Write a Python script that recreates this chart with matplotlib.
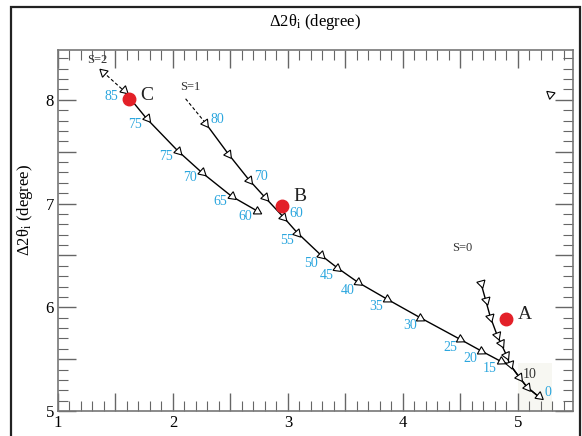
import numpy as np
import matplotlib
matplotlib.use("Agg")
import matplotlib.pyplot as plt
from matplotlib.patches import Rectangle
from matplotlib.ticker import MultipleLocator, FuncFormatter

plt.rcParams['font.family'] = ['Liberation Serif', 'DejaVu Serif']
plt.rcParams['mathtext.fontset'] = 'stix'

# datos
s2_x = [1.39, 1.57, 1.77, 2.04, 2.25, 2.51, 2.73]
s2_y = [8.27, 8.09, 7.82, 7.51, 7.30, 7.07, 6.93]
s2_labels = [None, '85', '75', '75', '70', '65', '60']

s1_start = (2.11, 8.01)
s1_x = [2.28, 2.48, 2.66, 2.80, 2.96, 3.08, 3.29, 3.43, 3.61, 3.86, 4.15, 4.50, 4.68, 4.85]
s1_y = [7.78, 7.48, 7.23, 7.06, 6.87, 6.72, 6.50, 6.38, 6.24, 6.08, 5.90, 5.69, 5.58, 5.48]
s1_labels = ['80', None, '70', None, '60', '55', '50', '45', '40', '35', '30', '25', '20', '15']

s0_x = [4.68, 4.72, 4.76, 4.82, 4.85, 4.90, 4.93, 5.01, 5.08, 5.18]
s0_y = [6.23, 6.07, 5.91, 5.73, 5.66, 5.54, 5.45, 5.33, 5.23, 5.14]
s0_labels = [None, None, None, None, None, None, None, '10', None, '0']

puntos = {'A': (4.90, 5.89), 'B': (2.95, 6.98), 'C': (1.62, 8.01)}
extra = (5.28, 8.06)

BLUE = '#2ba6de'

fig = plt.figure(figsize=(5.82, 4.36), dpi=100)
ax = fig.add_axes([58 / 582, 1 - 411 / 436, 515 / 582, 361 / 436])
ax.set_xlim(1, 5.48)
ax.set_ylim(5, 8.48)

# marco exterior
fig.patches.append(Rectangle((11 / 582, -0.1), 569 / 582, 1.1 - 7 / 436,
                             transform=fig.transFigure, fill=False,
                             edgecolor='#222222', linewidth=1.6))

ax.add_patch(Rectangle((5.0, 5.0), 0.30, 0.46, facecolor='#f7f7f2',
                       edgecolor='none', zorder=0))


def flechas(xs, ys, reverse_first=False):
    # triangulos orientados segun la direccion del tramo
    pts = ax.transData.transform(np.column_stack([xs, ys]))
    for i in range(len(xs)):
        if i == 0:
            d = pts[1] - pts[0]
        else:
            d = pts[i] - pts[i - 1]
        ang = np.degrees(np.arctan2(d[1], d[0]))
        if i == 0 and reverse_first:
            ang += 180
        ax.plot(xs[i], ys[i], linestyle='none',
                marker=(3, 0, ang - 90), markersize=7,
                markerfacecolor='white', markeredgecolor='black',
                markeredgewidth=0.8, zorder=4)


def etiqueta(t, x, y, dx, dy, color=BLUE):
    ax.annotate(t, (x, y), xytext=(dx, dy), textcoords='offset points',
                ha='center', va='center', color=color, fontsize=10)


# S=2
ax.plot(s2_x[:2], s2_y[:2], color='black', lw=0.8, ls=(0, (3, 2)), zorder=2)
ax.plot(s2_x[1:], s2_y[1:], color='black', lw=1.0, zorder=2)
flechas(s2_x, s2_y, reverse_first=True)
for x, y, t in zip(s2_x, s2_y, s2_labels):
    if t:
        etiqueta(t, x, y, -8.5, -4)

# S=1
ax.plot([s1_start[0], s1_x[0]], [s1_start[1], s1_y[0]], color='black',
        lw=0.8, ls=(0, (3, 2)), zorder=2)
ax.plot(s1_x + s0_x[6:], s1_y + s0_y[6:], color='black', lw=1.0, zorder=2)
flechas(s1_x, s1_y)
for i, (x, y, t) in enumerate(zip(s1_x, s1_y, s1_labels)):
    if not t:
        continue
    if i <= 4:
        etiqueta(t, x, y, 9, 2.5)
    else:
        etiqueta(t, x, y, -7.5, -5.5)

# S=0
ax.plot(s0_x, s0_y, color='black', lw=1.0, zorder=2)
flechas(s0_x, s0_y)
for x, y, t in zip(s0_x, s0_y, s0_labels):
    if t == '10':
        etiqueta(t, x, y, 8, 1.5, color='#333333')
    elif t:
        etiqueta(t, x, y, 6.5, 3)

ax.plot(extra[0], extra[1], linestyle='none', marker=(3, 0, 170),
        markersize=7, markerfacecolor='white', markeredgecolor='black',
        markeredgewidth=0.8)

ax.text(1.34, 8.38, 'S=2', fontsize=9, color='#333333', ha='center', va='center')
ax.text(2.15, 8.12, 'S=1', fontsize=9, color='#333333', ha='center', va='center')
ax.text(4.52, 6.57, 'S=0', fontsize=9, color='#333333', ha='center', va='center')

offs = {'A': (8, 3), 'B': (8, 6.5), 'C': (8, 2)}
for nombre, (x, y) in puntos.items():
    ax.plot(x, y, 'o', color='#e32028', markersize=9, zorder=5)
    ax.annotate(nombre, (x, y), xytext=offs[nombre], textcoords='offset points',
                ha='left', va='center', fontsize=14, color='#222222')

# ejes
ax.xaxis.set_major_locator(MultipleLocator(0.5))
ax.xaxis.set_minor_locator(MultipleLocator(0.1))
ax.yaxis.set_major_locator(MultipleLocator(0.5))
ax.yaxis.set_minor_locator(MultipleLocator(0.1))
solo_enteros = FuncFormatter(lambda v, p: '%d' % round(v) if abs(v - round(v)) < 1e-6 else '')
ax.xaxis.set_major_formatter(solo_enteros)
ax.yaxis.set_major_formatter(solo_enteros)
ax.tick_params(which='both', direction='in', top=True, right=True, color='#666666')
ax.tick_params(which='major', length=13, width=1.0, labelsize=12, pad=3)
ax.tick_params(which='minor', length=7, width=0.8)
for sp in ax.spines.values():
    sp.set_color('#777777')
    sp.set_linewidth(1.2)

titulo = 'Δ2θ$_{\\rm i}$ (degree)'
fig.text(315 / 582, 1 - 22 / 436, titulo, ha='center', va='center', fontsize=12)
fig.text(25 / 582, 1 - 210 / 436, titulo, ha='center', va='center',
         rotation=90, fontsize=12)

fig.savefig('out.png', dpi=100)
